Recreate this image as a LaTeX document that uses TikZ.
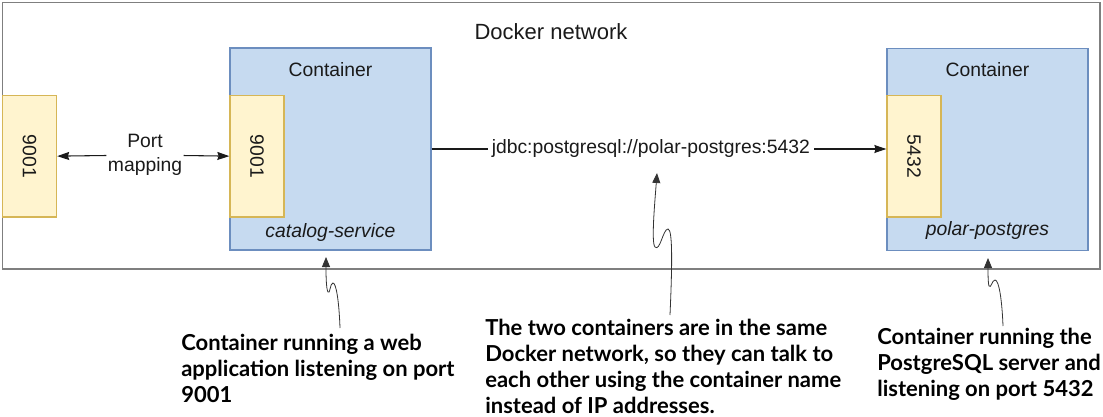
\documentclass[tikz,border=0pt]{standalone}
\usepackage{fontspec}
\setmainfont{Liberation Sans}
\newfontfamily\notefont{Lato}
\usetikzlibrary{arrows.meta,positioning}
\definecolor{netgray}{HTML}{7F7F7F}
\definecolor{ctrline}{HTML}{6C8EBF}
\definecolor{ctrfill}{HTML}{C6DAF0}
\definecolor{portline}{HTML}{D6B656}
\definecolor{portfill}{HTML}{FFF4CF}
\definecolor{txtdark}{HTML}{1A1A1A}

\begin{document}
\begin{tikzpicture}[x=0.75pt,y=-0.75pt,
    net/.style   = {draw=netgray,line width=1.1pt},
    ctr/.style   = {rectangle,draw=ctrline,fill=ctrfill,line width=1pt,
                    minimum width=150.75pt,minimum height=151.5pt,inner sep=0pt},
    port/.style  = {rectangle,draw=portline,fill=portfill,line width=1pt,
                    minimum width=40.5pt,minimum height=91pt,inner sep=0pt,
                    font=\fontsize{14.5}{17.5}\selectfont,text=txtdark},
    lbl/.style   = {font=\fontsize{14.5}{17.5}\selectfont,text=txtdark,inner sep=1pt},
    note/.style  = {font=\notefont\bfseries\fontsize{16.5}{19.5}\selectfont,align=left,
                    anchor=north west,inner sep=0pt},
    conn/.style  = {-{Stealth[length=9pt,width=6pt,inset=1pt]},line width=0.8pt,txtdark},
    pointer/.style = {-{Triangle[length=7.5pt,width=6pt]},line width=0.6pt,black!80},
  ]
  \useasboundingbox (0,0) rectangle (1103,417);

  % Docker network
  \draw[net] (2.5,2.5) rectangle (1100,269);
  \node[lbl,font=\fontsize{16.5}{19}\selectfont] (netname) at (551,32) {Docker network};

  % host port
  \node[port] (hostport) at (29.5,156.5) {\rotatebox{-90}{9001}};

  % containers
  \node[ctr]  (cat)     at (330.5,149) {};
  \node[lbl]  (catname) at (330.5,70)  {Container};
  \node[lbl]  (catsvc)  at (330.5,233) {\itshape catalog-service};
  \node[port] (catport) at (257,156.5) {\rotatebox{-90}{9001}};

  \node[ctr]  (pg)      at (987.5,149.5) {};
  \node[lbl]  (pgname)  at (987.5,70)   {Container};
  \node[lbl]  (pgsvc)   at (987.5,231)  {\itshape polar-postgres};
  \node[port] (pgport)  at (914,156.5)  {\rotatebox{-90}{5432}};

  % port mapping
  \node[lbl,align=center] (pmap) at (145,155) {Port\\ mapping};
  \draw[conn] (pmap) -- (hostport);
  \draw[conn] (pmap) -- (catport);

  % jdbc url
  \draw[conn] (cat.east) -- node[lbl,fill=white,inner xsep=3pt,pos=0.482] (jdbc)
        {jdbc:postgresql://polar-postgres:5432} (cat.east -| pgport.west);

  % notes
  \node[note] (note1) at (181,334) {Container running a web\\ application listening on port\\ 9001};
  \node[note] (note2) at (485,319) {The two containers are in the same\\ Docker network, so they can talk to\\
                                    each other using the container name\\ instead of IP addresses.};
  \node[note] (note3) at (877,328) {Container running the\\ PostgreSQL server and\\ listening on port 5432};

  \coordinate (n1s) at (340,328);  \coordinate (n1t) at (326,257);
  \coordinate (n2s) at (670,315);  \coordinate (n2t) at (657,173);
  \coordinate (n3s) at (1003,326); \coordinate (n3t) at (988,258);

  \draw[pointer] (n1s) .. controls (339,300) and (336,283) .. (333,283)
        .. controls (330,283) and (330,295) .. (328,292)
        .. controls (326,289) and (326,272) .. (n1t);
  \draw[pointer] (n2s) .. controls (672,270) and (673,229) .. (668,229)
        .. controls (663,229) and (660,252) .. (655,247)
        .. controls (651,243) and (655,200) .. (n2t);
  \draw[pointer] (n3s) .. controls (1002,300) and (999,280) .. (995,280)
        .. controls (992,280) and (991,289) .. (989,286)
        .. controls (988,283) and (988,272) .. (n3t);

\end{tikzpicture}
\end{document}
